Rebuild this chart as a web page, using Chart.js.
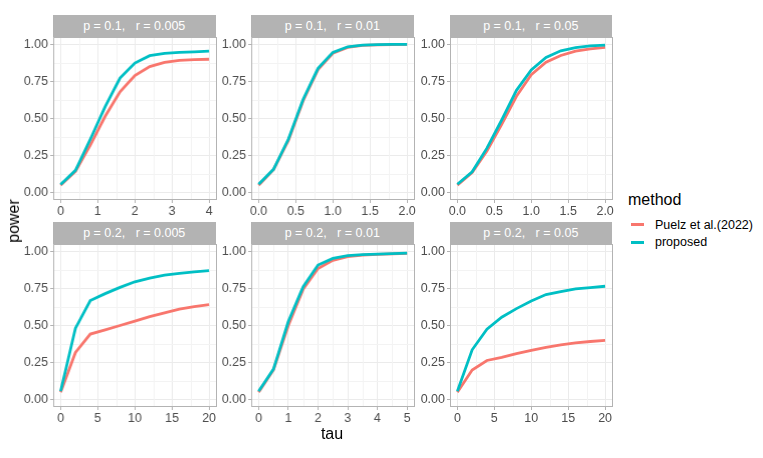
<!DOCTYPE html>
<html>
<head>
<meta charset="utf-8">
<script src="https://cdn.jsdelivr.net/npm/chart.js@4"></script>
<style>
  html, body { margin: 0; padding: 0; background: #fff; }
  #root { position: relative; width: 763px; height: 458px; background: #fff; overflow: hidden;
          font-family: "Liberation Sans", Arial, Helvetica, sans-serif; }
  .strip { position: absolute; background: #B3B3B3; color: #fff; font-size: 12.5px;
           display: flex; align-items: center; justify-content: center; white-space: pre; }
  .wrap { position: absolute; }
  .title { position: absolute; color: #000; font-size: 16px; white-space: nowrap; }
  .leg { position: absolute; font-size: 12.5px; color: #000; white-space: nowrap; }
  .key { position: absolute; height: 3px; width: 13px; }
</style>
</head>
<body>
<div id="root"></div>
<script>
// ---- data ----
const stripLabels = ["p = 0.1,   r = 0.005", "p = 0.1,   r = 0.01", "p = 0.1,   r = 0.05",
                     "p = 0.2,   r = 0.005", "p = 0.2,   r = 0.01", "p = 0.2,   r = 0.05"];
const methods = ["Puelz et al.(2022)", "proposed"];

const tau01_005 = [0, 0.4, 0.8, 1.2, 1.6, 2.0, 2.4, 2.8, 3.2, 3.6, 4.0];
const puelz01_005 = [0.05, 0.144, 0.32, 0.515, 0.68, 0.79, 0.85, 0.879, 0.892, 0.897, 0.90];
const prop01_005 = [0.054, 0.15, 0.36, 0.58, 0.773, 0.874, 0.924, 0.94, 0.946, 0.95, 0.955];

const tau01_01 = [0, 0.2, 0.4, 0.6, 0.8, 1.0, 1.2, 1.4, 1.6, 1.8, 2.0];
const puelz01_01 = [0.05, 0.155, 0.35, 0.62, 0.83, 0.94, 0.98, 0.993, 0.997, 0.999, 1.0];
const prop01_01 = [0.056, 0.157, 0.36, 0.63, 0.838, 0.946, 0.984, 0.995, 0.998, 1.0, 1.0];

const tau01_05 = [0, 0.2, 0.4, 0.6, 0.8, 1.0, 1.2, 1.4, 1.6, 1.8, 2.0];
const puelz01_05 = [0.05, 0.135, 0.28, 0.46, 0.65, 0.795, 0.88, 0.925, 0.955, 0.97, 0.98];
const prop01_05 = [0.056, 0.14, 0.30, 0.49, 0.69, 0.827, 0.912, 0.957, 0.978, 0.99, 0.995];

const tau02_005 = [0, 2, 4, 6, 8, 10, 12, 14, 16, 18, 20];
const puelz02_005 = [0.05, 0.318, 0.442, 0.47, 0.50, 0.53, 0.56, 0.585, 0.61, 0.627, 0.641];
const prop02_005 = [0.056, 0.482, 0.668, 0.715, 0.757, 0.795, 0.82, 0.84, 0.852, 0.862, 0.87];

const tau02_01 = [0, 0.5, 1.0, 1.5, 2.0, 2.5, 3.0, 3.5, 4.0, 4.5, 5.0];
const puelz02_01 = [0.05, 0.2, 0.50, 0.745, 0.885, 0.94, 0.965, 0.975, 0.98, 0.984, 0.987];
const prop02_01 = [0.056, 0.206, 0.527, 0.762, 0.908, 0.953, 0.971, 0.978, 0.982, 0.985, 0.989];

const tau02_05 = [0, 2, 4, 6, 8, 10, 12, 14, 16, 18, 20];
const puelz02_05 = [0.05, 0.2, 0.264, 0.285, 0.31, 0.332, 0.352, 0.37, 0.383, 0.392, 0.40];
const prop02_05 = [0.056, 0.336, 0.475, 0.556, 0.614, 0.666, 0.709, 0.729, 0.747, 0.756, 0.765];

const yTicks = [0, 0.25, 0.5, 0.75, 1.0];
const xTicksA = [0, 1, 2, 3, 4];
const xTicksB = [0, 0.5, 1.0, 1.5, 2.0];
const xTicksC = [0, 5, 10, 15, 20];
const xTicksD = [0, 1, 2, 3, 4, 5];
const xLabelsA = ["0", "1", "2", "3", "4"];
const xLabelsB = ["0.0", "0.5", "1.0", "1.5", "2.0"];
const xLabelsC = ["0", "5", "10", "15", "20"];
const xLabelsD = ["0", "1", "2", "3", "4", "5"];

// ---- layout / style ----
const COL_RED = "#F8766D", COL_CYAN = "#00BFC4";
const colLeft = [53, 251, 449.5];
const plotW = 162.5;
const rowPlotTop = [37, 244];
const plotH = 163;
const stripH = 22;
const YW = 45, XH = 22, PADT = 10, PADR = 10;

const panels = [
  {tau: tau01_005, a: puelz01_005, b: prop01_005, xt: xTicksA, xl: xLabelsA, xmin: -0.2, xmax: 4.2},
  {tau: tau01_01,  a: puelz01_01,  b: prop01_01,  xt: xTicksB, xl: xLabelsB, xmin: -0.1, xmax: 2.1},
  {tau: tau01_05,  a: puelz01_05,  b: prop01_05,  xt: xTicksB, xl: xLabelsB, xmin: -0.1, xmax: 2.1},
  {tau: tau02_005, a: puelz02_005, b: prop02_005, xt: xTicksC, xl: xLabelsC, xmin: -1, xmax: 21},
  {tau: tau02_01,  a: puelz02_01,  b: prop02_01,  xt: xTicksD, xl: xLabelsD, xmin: -0.25, xmax: 5.25},
  {tau: tau02_05,  a: puelz02_05,  b: prop02_05,  xt: xTicksC, xl: xLabelsC, xmin: -1, xmax: 21}
];

const root = document.getElementById("root");
const FONT = "'Liberation Sans', Arial, Helvetica, sans-serif";

const minorGrid = {
  id: "minorGrid",
  beforeDatasetsDraw(chart) {
    const ctx = chart.ctx, ca = chart.chartArea;
    ctx.save();
    ctx.strokeStyle = "#F3F3F3";
    ctx.lineWidth = 1;
    ["x", "y"].forEach(id => {
      const s = chart.scales[id];
      const t = s.ticks.map(k => k.value);
      for (let i = 0; i < t.length - 1; i++) {
        const m = (t[i] + t[i + 1]) / 2;
        const p = Math.round(s.getPixelForValue(m)) + 0.5;
        ctx.beginPath();
        if (id === "x") { ctx.moveTo(p, ca.top); ctx.lineTo(p, ca.bottom); }
        else { ctx.moveTo(ca.left, p); ctx.lineTo(ca.right, p); }
        ctx.stroke();
      }
    });
    ctx.restore();
  },
  afterDatasetsDraw(chart) {
    const ctx = chart.ctx, ca = chart.chartArea;
    ctx.save();
    ctx.strokeStyle = "#B3B3B3";
    ctx.lineWidth = 1;
    ctx.strokeRect(Math.round(ca.left) + 0.5, Math.round(ca.top) + 0.5,
                   Math.round(ca.right - ca.left) - 1, Math.round(ca.bottom - ca.top) - 1);
    ctx.restore();
  }
};

panels.forEach((p, i) => {
  const r = Math.floor(i / 3), c = i % 3;
  const L = colLeft[c], T = rowPlotTop[r];

  const st = document.createElement("div");
  st.className = "strip";
  st.style.left = L + "px";
  st.style.top = (T - stripH) + "px";
  st.style.width = plotW + "px";
  st.style.height = stripH + "px";
  st.textContent = stripLabels[i];
  root.appendChild(st);

  const w = document.createElement("div");
  w.className = "wrap";
  w.style.left = (L - YW) + "px";
  w.style.top = (T - PADT) + "px";
  w.style.width = (YW + plotW + PADR) + "px";
  w.style.height = (PADT + plotH + XH) + "px";
  const cv = document.createElement("canvas");
  w.appendChild(cv);
  root.appendChild(w);

  new Chart(cv, {
    type: "line",
    data: {
      datasets: [
        {label: methods[1], data: p.tau.map((x, k) => ({x, y: p.b[k]})),
         borderColor: COL_CYAN, borderWidth: 2.8, pointRadius: 0, tension: 0, order: 0, fill: false},
        {label: methods[0], data: p.tau.map((x, k) => ({x, y: p.a[k]})),
         borderColor: COL_RED, borderWidth: 2.8, pointRadius: 0, tension: 0, order: 1, fill: false}
      ]
    },
    options: {
      responsive: true,
      maintainAspectRatio: false,
      animation: false,
      devicePixelRatio: window.devicePixelRatio || 1,
      layout: {padding: {top: PADT, right: PADR, left: 0, bottom: 0}},
      plugins: {legend: {display: false}, tooltip: {enabled: false}, title: {display: false}},
      scales: {
        x: {
          type: "linear", min: p.xmin, max: p.xmax,
          afterBuildTicks: s => { s.ticks = p.xt.map(v => ({value: v})); },
          afterFit: s => { s.height = XH; },
          ticks: {autoSkip: false, maxRotation: 0, padding: 1, color: "#4D4D4D",
                  font: {family: FONT, size: 12.5},
                  callback: (v) => { const k = p.xt.indexOf(v); return k >= 0 ? p.xl[k] : ""; }},
          grid: {color: "#EBEBEB", lineWidth: 1, tickColor: "#B3B3B3", tickLength: 3, drawTicks: true},
          border: {display: false}
        },
        y: {
          type: "linear", min: -0.05, max: 1.05,
          afterBuildTicks: s => { s.ticks = yTicks.map(v => ({value: v})); },
          afterFit: s => { s.width = YW; },
          ticks: {autoSkip: false, padding: 2, color: "#4D4D4D",
                  font: {family: FONT, size: 12.5},
                  callback: v => Number(v).toFixed(2)},
          grid: {color: "#EBEBEB", lineWidth: 1, tickColor: "#B3B3B3", tickLength: 3, drawTicks: true},
          border: {display: false}
        }
      }
    },
    plugins: [minorGrid]
  });
});

// axis titles
const yt = document.createElement("div");
yt.className = "title";
yt.textContent = "power";
yt.style.left = "14px"; yt.style.top = "221px";
yt.style.transform = "translate(-50%, -50%) rotate(-90deg)";
root.appendChild(yt);

const xt = document.createElement("div");
xt.className = "title";
xt.textContent = "tau";
xt.style.left = "332px"; xt.style.top = "434px";
xt.style.transform = "translate(-50%, -50%)";
root.appendChild(xt);

// legend
const lt = document.createElement("div");
lt.className = "title";
lt.textContent = "method";
lt.style.left = "628px"; lt.style.top = "200px";
lt.style.transform = "translate(0, -50%)";
root.appendChild(lt);

[[COL_RED, 224.5], [COL_CYAN, 242]].forEach((k, j) => {
  const kd = document.createElement("div");
  kd.className = "key";
  kd.style.background = k[0];
  kd.style.left = "631px";
  kd.style.top = (k[1] - 1.5) + "px";
  root.appendChild(kd);
  const ld = document.createElement("div");
  ld.className = "leg";
  ld.textContent = methods[j];
  ld.style.left = "655px";
  ld.style.top = k[1] + "px";
  ld.style.transform = "translate(0, -50%)";
  root.appendChild(ld);
});
</script>
</body>
</html>
